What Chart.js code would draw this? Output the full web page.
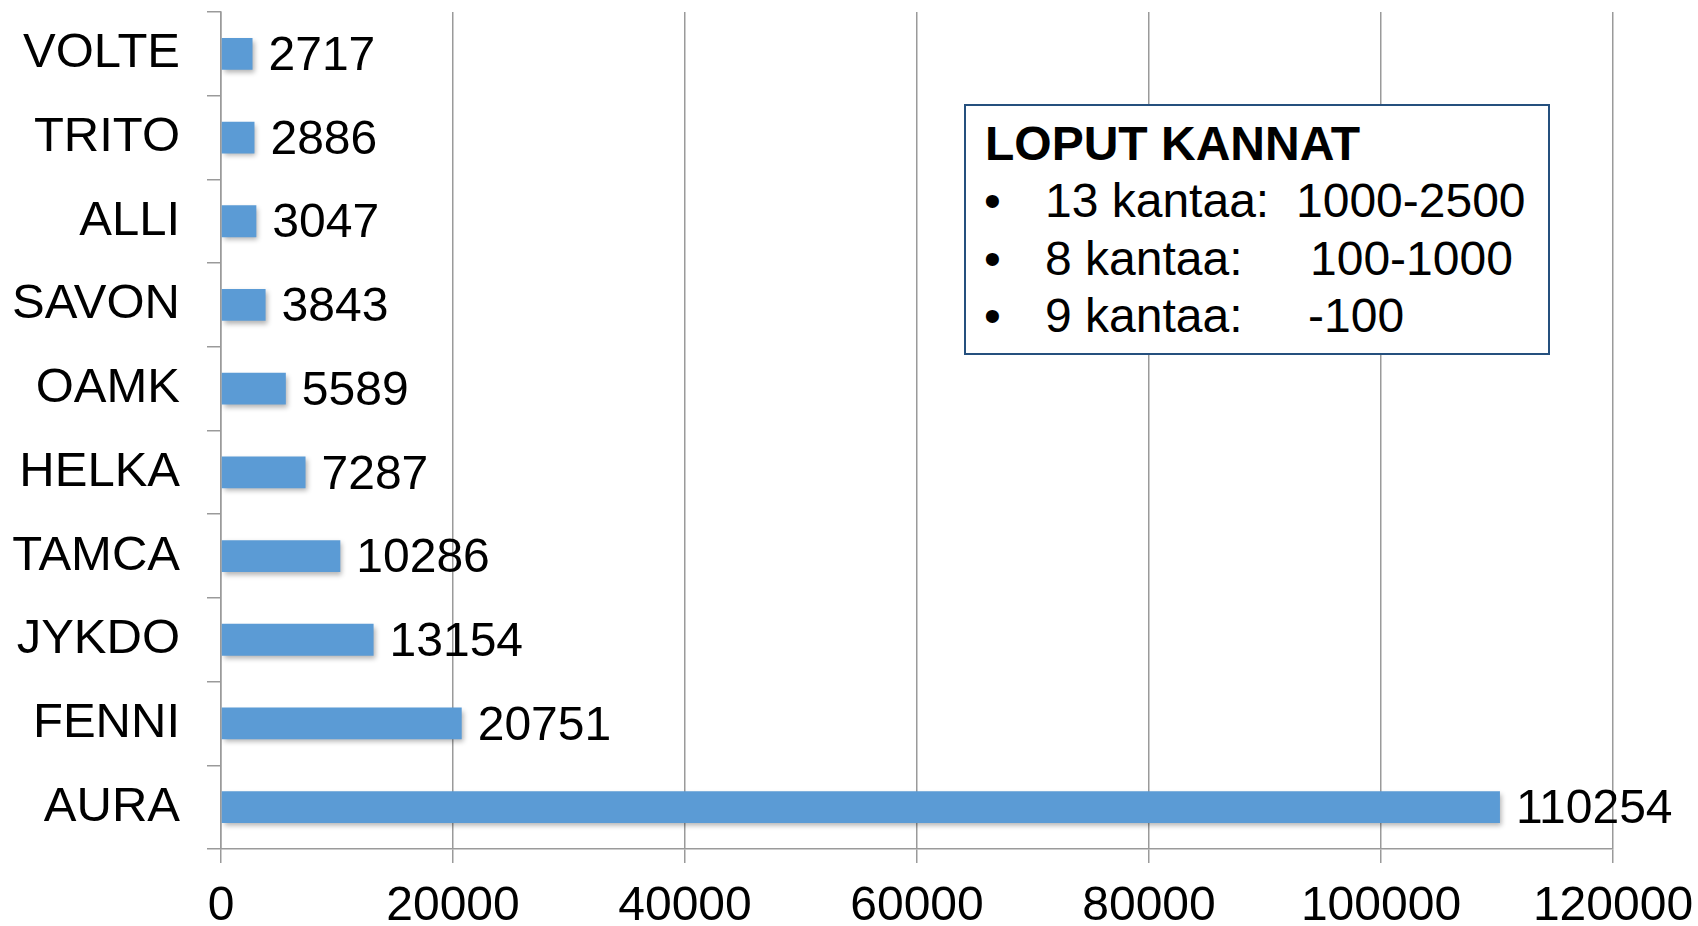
<!DOCTYPE html>
<html>
<head>
<meta charset="utf-8">
<script src="https://cdn.jsdelivr.net/npm/chart.js@4"></script>
<style>
  body { margin: 0; background: #fff; }
  #wrap { position: relative; width: 1698px; height: 926px; }
  #note {
    position: absolute; left: 964px; top: 104px; width: 586px; height: 251px;
    box-sizing: border-box; border: 2px solid #25507E; background: #fff;
    font-family: "Liberation Sans", Arial, sans-serif; font-size: 48px; color: #000;
  }
  #note div { position: absolute; line-height: 48px; white-space: pre; }
  #note .title { font-weight: bold; }
</style>
</head>
<body>
<div id="wrap">
  <canvas id="myChart"></canvas>
  <div id="note"></div>
</div>
<script>
const categories = ["VOLTE", "TRITO", "ALLI", "SAVON", "OAMK", "HELKA", "TAMCA", "JYKDO", "FENNI", "AURA"];
const values = [2717, 2886, 3047, 3843, 5589, 7287, 10286, 13154, 20751, 110254];
const xTicks = [0, 20000, 40000, 60000, 80000, 100000, 120000];

const noteTitle = "LOPUT KANNAT";
const noteCounts = ["13 kantaa:", "8 kantaa:", "9 kantaa:"];
const noteRanges = ["1000-2500", "100-1000", "-100"];

const fontFamily = '"Liberation Sans", Arial, sans-serif';

// the text box in the upper right
const note = document.getElementById('note');
const rowTops = [71, 129, 186];
const rangeLefts = [330, 344, 342];
let t = document.createElement('div');
t.className = 'title';
t.textContent = noteTitle;
t.style.left = '19px';
t.style.top = '14px';
note.appendChild(t);
noteCounts.forEach((c, i) => {
  const b = document.createElement('div');
  b.textContent = '•';
  b.style.left = '18px'; b.style.top = rowTops[i] + 'px';
  const a = document.createElement('div');
  a.textContent = c;
  a.style.left = '79px'; a.style.top = rowTops[i] + 'px';
  const r = document.createElement('div');
  r.textContent = noteRanges[i];
  r.style.left = rangeLefts[i] + 'px'; r.style.top = rowTops[i] + 'px';
  note.appendChild(b); note.appendChild(a); note.appendChild(r);
});

const barShadow = {
  id: 'barShadow',
  beforeDatasetsDraw(chart) {
    const ctx = chart.ctx;
    ctx.save();
    ctx.shadowColor = 'rgba(0,0,0,0.3)';
    ctx.shadowBlur = 5;
    ctx.shadowOffsetX = 2;
    ctx.shadowOffsetY = 3;
  },
  afterDatasetsDraw(chart) {
    chart.ctx.restore();
  }
};

const valueLabels = {
  id: 'valueLabels',
  afterDraw(chart) {
    const ctx = chart.ctx;
    const meta = chart.getDatasetMeta(0);
    ctx.save();
    ctx.font = '48px ' + fontFamily;
    ctx.fillStyle = '#000';
    ctx.textAlign = 'left';
    ctx.textBaseline = 'middle';
    meta.data.forEach((bar, i) => {
      ctx.fillText(String(values[i]), bar.x + 16, bar.y + 3);
    });
    ctx.restore();
  }
};

const gridColor = '#9a9a9a';

new Chart(document.getElementById('myChart'), {
  type: 'bar',
  data: {
    labels: categories,
    datasets: [{
      data: values,
      backgroundColor: '#5B9BD5',
      borderWidth: 0,
      barPercentage: 0.38,
      categoryPercentage: 1
    }]
  },
  options: {
    indexAxis: 'y',
    responsive: true,
    maintainAspectRatio: false,
    animation: false,
    layout: { padding: { top: 12, left: 9, right: 0, bottom: 0 } },
    plugins: { legend: { display: false }, tooltip: { enabled: false } },
    scales: {
      x: {
        min: 0,
        max: 120000,
        afterBuildTicks: (scale) => { scale.ticks = xTicks.map(v => ({ value: v })); },
        afterFit: (scale) => {
          scale.height = 77;
          scale.paddingLeft = 0; scale.paddingRight = 85;
          scale.paddingTop = 0; scale.paddingBottom = 0;
        },
        grid: { color: gridColor, lineWidth: 1.5, tickLength: 14 },
        border: { color: gridColor, width: 1.5 },
        ticks: {
          padding: 20,
          color: '#000',
          font: { family: fontFamily, size: 48, lineHeight: 1 },
          maxRotation: 0,
          autoSkip: false,
          callback: (v) => String(v)
        }
      },
      y: {
        afterFit: (scale) => {
          scale.width = 212;
          scale.paddingTop = 0; scale.paddingBottom = 0;
        },
        grid: { drawOnChartArea: false, color: gridColor, lineWidth: 1.5, tickLength: 14, offset: true },
        border: { color: gridColor, width: 1.5 },
        ticks: {
          padding: 27,
          color: '#000',
          font: { family: fontFamily, size: 49, lineHeight: 0.96 }
        }
      }
    }
  },
  plugins: [barShadow, valueLabels]
});
</script>
</body>
</html>
